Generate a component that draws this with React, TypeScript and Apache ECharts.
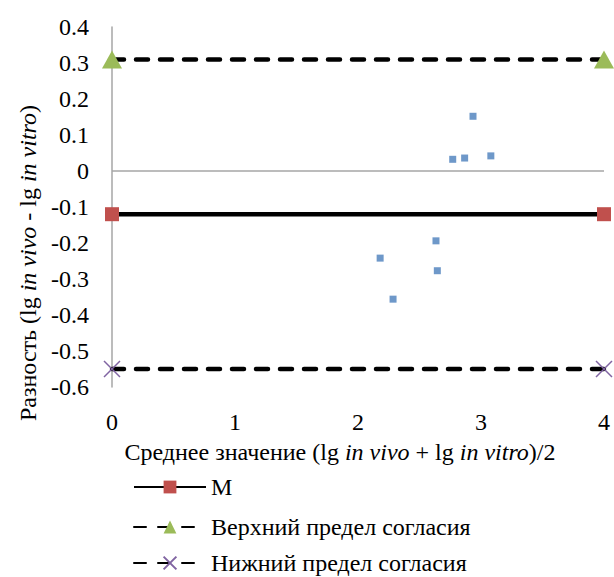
import React, { useEffect, useRef } from "react";
import * as echarts from "echarts";

const xVals = [2.18, 2.285, 2.634, 2.645, 2.77, 2.867, 2.935, 3.08];
const yVals = [-0.242, -0.356, -0.194, -0.277, 0.0325, 0.036, 0.152, 0.042];
const lineX = [0, 4];
const meanVal = -0.12;
const upperVal = 0.31;
const lowerVal = -0.55;
const seriesNames = ["M", "Верхний предел согласия", "Нижний предел согласия"];

const FONT = "Liberation Serif";

export default function App() {
  const ref = useRef<HTMLDivElement>(null);
  useEffect(() => {
    document.body.style.margin = "0";
    if (!ref.current) return;
    const chart = echarts.init(ref.current, undefined, { renderer: "svg" });
    const pts = xVals.map((x, i) => [x, yVals[i]]);
    const mk = (v: number) => lineX.map((x) => [x, v]);
    const legendTops = [470, 510, 546];
    const forceFont = () => {
      if (!ref.current) return;
      ref.current.querySelectorAll("text").forEach((t) => {
        (t as SVGTextElement).style.fontFamily = "'Liberation Serif', 'Times New Roman', serif";
      });
    };
    chart.on("finished", forceFont);
    chart.setOption({
      animation: false,
      textStyle: { fontFamily: FONT },
      grid: { left: 112, top: 27, width: 492, height: 360 },
      xAxis: {
        type: "value",
        min: 0,
        max: 4,
        interval: 1,
        axisLine: { show: false, onZero: false },
        axisTick: { show: false },
        splitLine: { show: false },
        axisLabel: { color: "#000", fontSize: 24, fontFamily: FONT, margin: 23 },
      },
      yAxis: {
        type: "value",
        min: -0.6,
        max: 0.4,
        interval: 0.1,
        axisLine: { show: true, onZero: false, lineStyle: { color: "#a6a6a6", width: 1.5 } },
        axisTick: { show: false },
        splitLine: { show: false },
        axisLabel: {
          color: "#000",
          fontSize: 24,
          fontFamily: FONT,
          margin: 23,
          formatter: (v: number) => String(Math.round(v * 10) / 10),
        },
      },
      legend: seriesNames.map((n, i) => ({
        orient: "vertical",
        left: 128,
        top: legendTops[i],
        itemWidth: 72,
        itemHeight: 16,
        data: [n],
        textStyle: { color: "#000", fontSize: 24, fontFamily: FONT, lineHeight: 22 },
      })),
      graphic: [
        {
          type: "text",
          x: 28,
          y: 263,
          rotation: Math.PI / 2,
          style: {
            text: "{n|Разность (lg }{i|in vivo}{n| - lg }{i|in vitro}{n|)}",
            align: "center",
            verticalAlign: "middle",
            rich: {
              n: { fontSize: 24, fontFamily: FONT, fill: "#000" },
              i: { fontSize: 24, fontFamily: FONT, fontStyle: "italic", fill: "#000" },
            },
          },
        },
        {
          type: "text",
          x: 340,
          y: 452,
          style: {
            text: "{n|Среднее значение (lg }{i|in vivo}{n| + lg }{i|in vitro}{n|)/2}",
            align: "center",
            verticalAlign: "middle",
            rich: {
              n: { fontSize: 24, fontFamily: FONT, fill: "#000" },
              i: { fontSize: 24, fontFamily: FONT, fontStyle: "italic", fill: "#000" },
            },
          },
        },
      ],
      series: [
        {
          name: "Разность",
          type: "scatter",
          data: pts,
          symbol: "rect",
          symbolSize: 7,
          itemStyle: { color: "#4a7ebb" },
          z: 5,
          markLine: {
            silent: true,
            symbol: "none",
            label: { show: false },
            lineStyle: { color: "#a6a6a6", width: 1.5, type: "solid" },
            data: [{ yAxis: 0 }],
          },
        },
        {
          name: seriesNames[0],
          type: "line",
          data: mk(meanVal),
          symbol: "rect",
          symbolSize: 14,
          itemStyle: { color: "#c0504d" },
          lineStyle: { color: "#000", width: 4.5 },
          z: 4,
        },
        {
          name: seriesNames[1],
          type: "line",
          data: mk(upperVal),
          symbol: "triangle",
          symbolSize: [20, 18],
          itemStyle: { color: "#9bbb59" },
          lineStyle: { color: "#000", width: 4.5, type: [12, 12], cap: "round" },
          z: 4,
        },
        {
          name: seriesNames[2],
          type: "line",
          data: mk(lowerVal),
          symbol: "path://M0,0L10,10M10,0L0,10",
          symbolSize: 16,
          itemStyle: { color: "transparent", borderColor: "#8064a2", borderWidth: 1.5 },
          lineStyle: { color: "#000", width: 4.5, type: [12, 12], cap: "round" },
          z: 4,
        },
      ],
    });
    forceFont();
    return () => chart.dispose();
  }, []);
  return <div ref={ref} style={{ width: 614, height: 577, fontFamily: FONT }} />;
}
